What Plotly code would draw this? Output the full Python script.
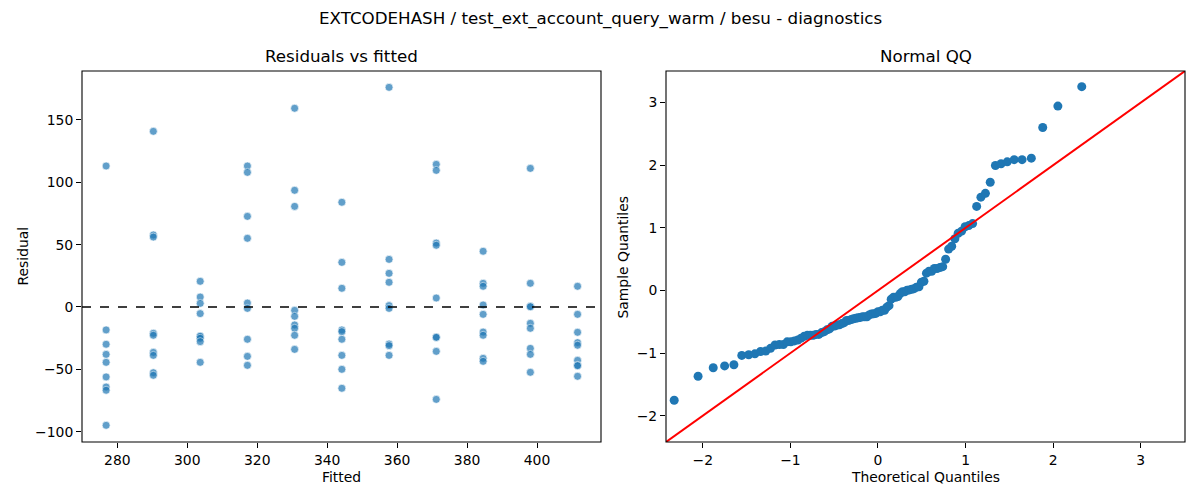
"""Residual diagnostics: residuals vs fitted + normal QQ (EXTCODEHASH / besu)."""
from statistics import NormalDist, mean, pstdev
import plotly.graph_objects as go

# 11 fitted levels, residuals read per level
FITTED_LEVELS = [276.8, 290.3, 303.7, 317.2, 330.7, 344.2, 357.7, 371.2, 384.6, 398.1, 411.6]
RESID_BY_LEVEL = [
    [113.1, -18.4, -29.9, -38.0, -44.4, -56.1, -64.2, -66.8, -94.9],
    [140.9, 57.8, 56.1, -21.1, -22.7, -36.4, -38.8, -52.7, -54.8],
    [20.6, 8.0, 2.9, -5.3, -23.3, -23.6, -25.1, -27.8, -44.4],
    [113.1, 108.0, 72.7, 55.1, 3.2, -1.1, -25.9, -39.6, -46.8],
    [159.4, 93.6, 80.7, -2.7, -7.5, -14.4, -17.1, -22.7, -34.0],
    [84.0, 35.8, 15.0, -18.4, -19.8, -25.9, -38.8, -50.0, -65.2],
    [176.2, 38.2, 27.0, 19.8, 1.1, -1.1, -29.7, -31.0, -38.8],
    [114.4, 109.6, 51.3, 49.5, 7.2, -24.1, -24.4, -35.6, -74.1],
    [44.7, 19.0, 16.6, 1.6, -5.9, -20.1, -22.7, -41.2, -43.6],
    [111.2, 19.0, 0.5, 0.2, -13.1, -17.1, -33.2, -38.0, -52.4],
    [16.6, -5.9, -20.3, -28.6, -30.7, -42.8, -46.8, -47.1, -55.6],
]
X_TICKS_L = [280, 300, 320, 340, 360, 380, 400]
Y_TICKS_L = [-100, -50, 0, 50, 100, 150]
TICKS_R = [-2, -1, 0, 1, 2, 3]

TITLE = "EXTCODEHASH / test_ext_account_query_warm / besu - diagnostics"
C0 = "#1f77b4"
FONT = "DejaVu Sans"
MINUS = "\u2212"

# page body has 8px margin -> figure is 1184x484, positions given in page px
W, H, OFF = 1184, 484, 8
def px(x): return (x - OFF) / W
def py(y): return 1 - (y - OFF) / H

fitted = [f for f, rs in zip(FITTED_LEVELS, RESID_BY_LEVEL) for _ in rs]
resid = [r for rs in RESID_BY_LEVEL for r in rs]

# qq: standardised sorted residuals vs normal quantiles i/(n+1)
n = len(resid)
mu, sd = mean(resid), pstdev(resid)
sample_q = sorted((r - mu) / sd for r in resid)
theo_q = [NormalDist().inv_cdf(i / (n + 1)) for i in range(1, n + 1)]
QQ_LIM = [-2.42, 3.505]

fig = go.Figure()
fig.add_trace(go.Scatter(
    x=fitted, y=resid, mode="markers", xaxis="x", yaxis="y",
    marker=dict(color=C0, size=8, opacity=0.7, line=dict(color="white", width=0.7)),
    showlegend=False,
))
fig.add_trace(go.Scatter(
    x=theo_q, y=sample_q, mode="markers", xaxis="x2", yaxis="y2",
    marker=dict(color=C0, size=9, line=dict(width=0)),
    showlegend=False,
))
fig.add_trace(go.Scatter(
    x=QQ_LIM, y=QQ_LIM, mode="lines", xaxis="x2", yaxis="y2",
    line=dict(color="red", width=2), showlegend=False,
))

# dashed zero line on residual panel
fig.add_shape(type="line", xref="x domain", yref="y", x0=0, x1=1, y0=0, y1=0,
              line=dict(color="black", width=1.3, dash="dash"))
# axes frames
for xr, yr in (("x", "y"), ("x2", "y2")):
    fig.add_shape(type="rect", xref=f"{xr} domain", yref=f"{yr} domain",
                  x0=0, x1=1, y0=0, y1=1, line=dict(color="black", width=1.1),
                  fillcolor="rgba(0,0,0,0)", layer="above")

axis_style = dict(showline=False, ticks="outside", ticklen=5, tickwidth=1.1, tickcolor="black",
                  showgrid=False, zeroline=False, tickfont=dict(size=13.9, color="black"))
ticks_r_text = [MINUS + "2", MINUS + "1", "0", "1", "2", "3"]

fig.update_layout(
    width=W, height=H, margin=dict(l=0, r=0, t=0, b=0),
    paper_bgcolor="white", plot_bgcolor="white",
    font=dict(family=FONT, color="black", size=14),
    xaxis=dict(domain=[px(82), px(601)], range=[269.9, 418.3],
               tickvals=X_TICKS_L, anchor="y", **axis_style),
    yaxis=dict(domain=[py(442), py(71)], range=[-108.3, 189.3],
               tickvals=Y_TICKS_L, ticktext=[MINUS + "100", MINUS + "50", "0", "50", "100", "150"],
               anchor="x", **axis_style),
    xaxis2=dict(domain=[px(666), px(1185)], range=QQ_LIM,
                tickvals=TICKS_R, ticktext=ticks_r_text, anchor="y2", **axis_style),
    yaxis2=dict(domain=[py(442), py(71)], range=QQ_LIM,
                tickvals=TICKS_R, ticktext=ticks_r_text, anchor="x2", **axis_style),
)

ann = [
    dict(text=TITLE, x=600, y=18, size=16.7),
    dict(text="Residuals vs fitted", x=341.5, y=56, size=16.7),
    dict(text="Normal QQ", x=925.5, y=56, size=16.7),
    dict(text="Fitted", x=341.5, y=477, size=13.9),
    dict(text="Theoretical Quantiles", x=925.5, y=477, size=13.9),
    dict(text="Residual", x=22, y=256.5, size=13.9, angle=-90),
    dict(text="Sample Quantiles", x=622, y=256.5, size=13.9, angle=-90),
]
for a in ann:
    fig.add_annotation(text=a["text"], x=px(a["x"]), y=py(a["y"]), xref="paper", yref="paper",
                       xanchor="center", yanchor="middle", showarrow=False,
                       textangle=a.get("angle", 0), font=dict(size=a["size"], color="black"))

fig.write_html("out.html")
